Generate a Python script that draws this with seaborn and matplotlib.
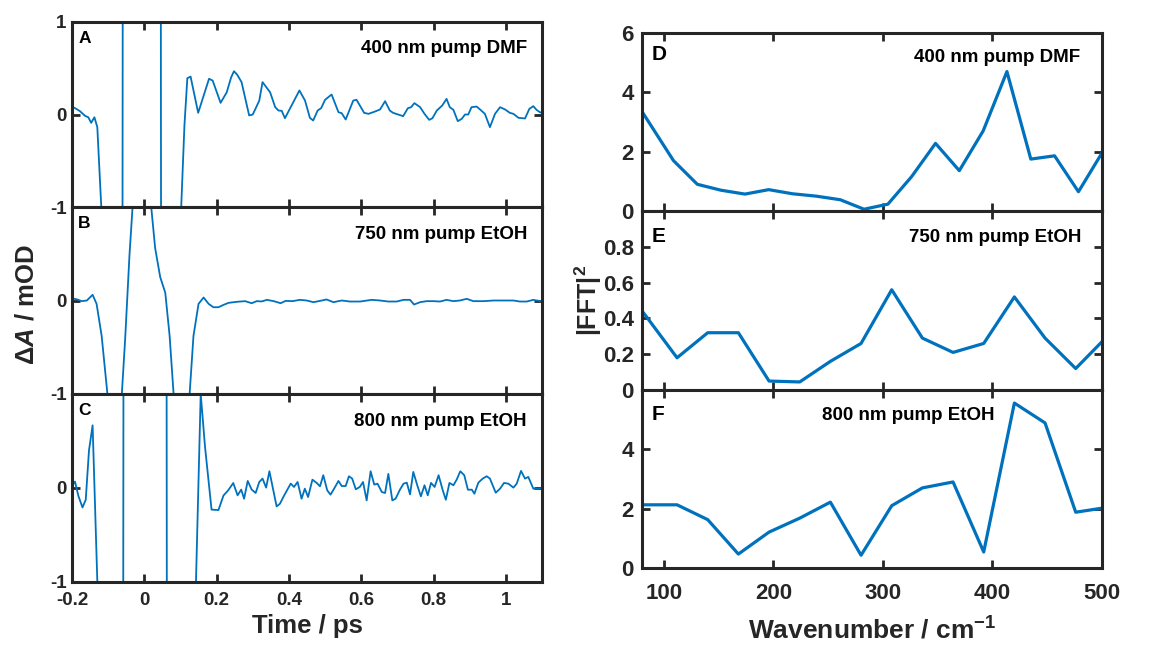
import numpy as np
import pandas as pd
import matplotlib
matplotlib.use("Agg")
import matplotlib.pyplot as plt
import seaborn as sns

# ---------------- data ----------------
# Panel A: 400 nm pump DMF, transient
tA = [-0.200, -0.192, -0.178, -0.164, -0.155, -0.147, -0.138, -0.130, -0.119, -0.108,
      -0.080, -0.061, -0.059, -0.020, 0.020, 0.045, 0.047, 0.080, 0.094, 0.111,
      0.119, 0.128, 0.149, 0.179, 0.189, 0.211, 0.228, 0.240, 0.248, 0.257,
      0.269, 0.290, 0.300, 0.318, 0.327, 0.348, 0.362, 0.371, 0.380, 0.389,
      0.429, 0.4445, 0.458, 0.467, 0.4795, 0.489, 0.500, 0.518, 0.537, 0.546,
      0.557, 0.578, 0.587, 0.608, 0.620, 0.638, 0.652, 0.666, 0.679, 0.688,
      0.702, 0.716, 0.729, 0.738, 0.747, 0.763, 0.775, 0.788, 0.797, 0.809,
      0.824, 0.836, 0.845, 0.855, 0.867, 0.878, 0.887, 0.896, 0.905, 0.919,
      0.930, 0.942, 0.956, 0.970, 0.984, 0.998, 1.011, 1.021, 1.035, 1.053,
      1.065, 1.076, 1.085, 1.094, 1.100]
dA = [0.08, 0.07, 0.036, -0.014, -0.03, -0.09, -0.03, -0.137, -1.0, -2.0,
      -3.0, -4.0, 4.0, 5.0, 5.0, 4.0, -4.0, -3.0, -1.8, -0.119,
      0.392, 0.41, 0.018, 0.386, 0.367, 0.126, 0.24, 0.40, 0.468, 0.43,
      0.35, -0.01, 0.0, 0.15, 0.35, 0.24, 0.08, 0.043, 0.04, -0.04,
      0.26, 0.151, -0.036, -0.065, 0.043, 0.068, 0.159, 0.216, 0.025, 0.014,
      -0.054, 0.151, 0.159, 0.018, 0.007, 0.032, 0.054, 0.144, 0.043, 0.018,
      0.0, -0.018, 0.068, 0.079, 0.123, 0.079, 0.007, -0.058, -0.04, 0.043,
      0.097, 0.169, 0.079, 0.05, -0.072, -0.047, 0.0, 0.0, 0.079, 0.086,
      0.05, 0.007, -0.137, 0.007, 0.079, 0.054, 0.018, 0.007, -0.036, -0.043,
      0.061, 0.09, 0.05, 0.025, 0.02]

# Panel B: 750 nm pump EtOH, transient
tB = [-0.200, -0.1917, -0.1825, -0.173, -0.159, -0.143, -0.132, -0.118, -0.102, -0.090,
      -0.070, -0.053, -0.041, -0.032, -0.020, 0.005, 0.008, 0.030, 0.044, 0.058,
      0.070, 0.081, 0.095, 0.115, 0.136, 0.150, 0.164, 0.178, 0.191, 0.205,
      0.219, 0.233, 0.256, 0.279, 0.297, 0.311, 0.325, 0.339, 0.358, 0.377,
      0.391, 0.410, 0.430, 0.449, 0.468, 0.491, 0.504, 0.523, 0.546, 0.569,
      0.597, 0.629, 0.652, 0.675, 0.698, 0.717, 0.735, 0.746, 0.763, 0.781,
      0.800, 0.818, 0.836, 0.855, 0.873, 0.892, 0.910, 0.938, 0.966, 0.993,
      1.021, 1.039, 1.058, 1.076, 1.085, 1.100]
dB = [0.015, 0.018, 0.007, -0.007, 0.0, 0.061, -0.036, -0.378, -1.0, -1.5,
      -1.5, -0.414, 0.486, 1.03, 1.6, 1.6, 1.45, 0.56, 0.25, 0.083,
      -0.378, -1.0, -1.6, -1.6, -0.378, -0.036, 0.032, -0.036, -0.072, -0.072,
      -0.047, -0.025, -0.014, -0.007, -0.029, -0.007, -0.010, 0.007, -0.007, -0.029,
      -0.004, -0.007, 0.007, 0.0, -0.018, 0.0, 0.011, -0.018, 0.0, -0.011,
      -0.011, 0.007, 0.0, -0.011, -0.011, 0.007, 0.007, -0.043, -0.018, -0.007,
      -0.007, -0.011, 0.007, -0.007, 0.0, 0.018, -0.007, -0.007, 0.0, 0.0,
      0.0, -0.011, -0.011, 0.007, 0.0, -0.007]

# Panel C: 800 nm pump EtOH, transient
tC = [-0.200, -0.1917, -0.1825, -0.171, -0.162, -0.153, -0.143, -0.130, -0.120, -0.080,
      -0.059, -0.057, 0.000, 0.061, 0.063, 0.100, 0.135, 0.156, 0.168, 0.186,
      0.205, 0.219, 0.232, 0.246, 0.258, 0.268, 0.276, 0.286, 0.297, 0.308,
      0.318, 0.327, 0.337, 0.346, 0.366, 0.375, 0.387, 0.405, 0.414, 0.424,
      0.435, 0.444, 0.453, 0.465, 0.477, 0.486, 0.495, 0.506, 0.515, 0.525,
      0.537, 0.546, 0.557, 0.566, 0.575, 0.585, 0.596, 0.605, 0.615, 0.626,
      0.636, 0.645, 0.657, 0.666, 0.675, 0.686, 0.695, 0.707, 0.717, 0.726,
      0.735, 0.744, 0.755, 0.765, 0.775, 0.784, 0.793, 0.803, 0.814, 0.825,
      0.834, 0.844, 0.855, 0.864, 0.874, 0.885, 0.895, 0.906, 0.913, 0.924,
      0.936, 0.947, 0.956, 0.972, 0.984, 0.995, 1.007, 1.021, 1.030, 1.042,
      1.053, 1.062, 1.076, 1.088, 1.100]
dC = [0.02, 0.068, -0.082, -0.207, -0.125, 0.40, 0.667, -0.99, -2.3, -3.0,
      -4.0, 4.0, 5.0, 4.0, -4.0, -3.0, -2.2, 1.0, 0.435, -0.23,
      -0.235, -0.08, -0.025, 0.053, -0.078, -0.017, -0.114, 0.075, -0.017, -0.053,
      0.064, 0.10, 0.004, 0.178, -0.196, -0.168, -0.078, 0.047, 0.011, 0.064,
      -0.114, -0.007, -0.096, 0.089, 0.053, 0.018, 0.136, -0.025, -0.071, -0.007,
      0.075, 0.021, 0.021, 0.125, 0.10, -0.014, 0.011, 0.064, -0.132, 0.178,
      0.036, 0.046, -0.043, -0.053, 0.150, -0.132, -0.114, -0.018, 0.046, 0.057,
      -0.068, 0.171, 0.029, -0.089, 0.029, -0.078, 0.054, 0.011, 0.136, -0.018,
      -0.125, 0.054, 0.029, 0.089, 0.178, 0.136, -0.018, -0.018, -0.061, 0.057,
      0.10, 0.125, 0.10, -0.05, -0.007, 0.054, 0.046, 0.004, 0.046, 0.182,
      0.10, 0.118, -0.007, -0.007, -0.007]

# Panel D: FFT, 400 nm pump DMF
wnD = [65.2, 87.0, 108.7, 130.5, 152.2, 174.0, 195.7, 217.5, 239.2, 261.0,
       282.7, 304.5, 326.2, 348.0, 369.7, 391.5, 413.2, 435.0, 456.7, 478.5, 500.2]
fftD = [4.20, 2.95, 1.70, 0.90, 0.70, 0.57, 0.72, 0.58, 0.50, 0.38,
        0.06, 0.23, 1.16, 2.28, 1.36, 2.70, 4.70, 1.75, 1.86, 0.65, 1.97]

# Panels E, F: FFT, 750 / 800 nm pump EtOH
wnEF = [56, 84, 112, 140, 168, 196, 224, 252, 280, 308, 336, 364, 392, 420, 448, 476, 504]
fftE = [0.63, 0.41, 0.18, 0.32, 0.32, 0.05, 0.045, 0.16, 0.26, 0.56,
        0.29, 0.21, 0.26, 0.52, 0.29, 0.12, 0.295]
fftF = [2.13, 2.13, 2.13, 1.63, 0.47, 1.21, 1.68, 2.22, 0.43, 2.10,
        2.70, 2.90, 0.54, 5.56, 4.89, 1.88, 2.04]

labels_left = ["400 nm pump DMF", "750 nm pump EtOH", "800 nm pump EtOH"]
labels_right = ["400 nm pump DMF", "750 nm pump EtOH", "800 nm pump EtOH"]
letters_left = ["A", "B", "C"]
letters_right = ["D", "E", "F"]
time_ticks = [-0.2, 0, 0.2, 0.4, 0.6, 0.8, 1]
time_ticklabels = ["-0.2", "0", "0.2", "0.4", "0.6", "0.8", "1"]
wn_ticks = [100, 200, 300, 400, 500]

# ---------------- style ----------------
sns.set_style("ticks")
plt.rcParams['font.family'] = ['Liberation Sans', 'DejaVu Sans']
plt.rcParams['font.weight'] = 'bold'
plt.rcParams['axes.labelweight'] = 'bold'
plt.rcParams['mathtext.fontset'] = 'custom'
plt.rcParams['mathtext.rm'] = 'Liberation Sans:bold'
plt.rcParams['mathtext.it'] = 'Liberation Sans:italic:bold'
plt.rcParams['mathtext.bf'] = 'Liberation Sans:bold'
plt.rcParams['mathtext.default'] = 'rm'

BLUE = '#0072BD'
DARK = '#262626'
W, H = 1174, 648

fig = plt.figure(figsize=(W / 100, H / 100), dpi=100)
fig.patch.set_facecolor('white')


def ax_at(x0, y0, x1, y1):
    return fig.add_axes([x0 / W, 1 - y1 / H, (x1 - x0) / W, (y1 - y0) / H])


def style(ax, tick_fs, xpad, ypad):
    ax.tick_params(direction='in', top=True, right=True, length=6, width=2,
                   colors=DARK, labelsize=tick_fs)
    ax.tick_params(axis='x', pad=xpad)
    ax.tick_params(axis='y', pad=ypad)
    for s in ax.spines.values():
        s.set_visible(True)
        s.set_linewidth(2.2)
        s.set_color(DARK)
    ax.set_xlabel('')
    ax.set_ylabel('')
    for lab in ax.get_xticklabels() + ax.get_yticklabels():
        lab.set_fontweight('bold')


# ---------------- left column ----------------
left_boxes = [(72, 22, 542, 207), (72, 207, 542, 394), (72, 394, 542, 582)]
left_data = [(tA, dA), (tB, dB), (tC, dC)]
for i, (box, (t, d)) in enumerate(zip(left_boxes, left_data)):
    ax = ax_at(*box)
    df = pd.DataFrame({'t': t, 'd': d})
    sns.lineplot(data=df, x='t', y='d', ax=ax, color=BLUE, linewidth=1.3,
                 estimator=None, sort=False)
    ax.set_xlim(-0.2, 1.1)
    ax.set_ylim(-1, 1)
    ax.set_xticks(time_ticks)
    ax.set_yticks([-1, 0, 1])
    if i == 0:
        ax.set_yticklabels(['-1', '0', '1'])
    else:
        ax.set_yticklabels(['-1', '0', ''])
    if i == 2:
        ax.set_xticklabels(time_ticklabels)
    else:
        ax.set_xticklabels([])
    style(ax, 13.5, 7, 4)
    ax.text(0.013, 0.91, letters_left[i], transform=ax.transAxes, fontsize=12.5,
            fontweight='bold', ha='left', va='center', color='black')
    ax.text(0.968, 0.855, labels_left[i], transform=ax.transAxes, fontsize=13.5,
            fontweight='bold', ha='right', va='center', color='black')

# ---------------- right column ----------------
right_boxes = [(642, 33, 1102, 211), (642, 211, 1102, 390), (642, 390, 1102, 568)]
right_data = [(wnD, fftD), (wnEF, fftE), (wnEF, fftF)]
right_ylims = [(0, 6), (0, 1), (0, 6)]
right_yticks = [[0, 2, 4, 6], [0, 0.2, 0.4, 0.6, 0.8, 1.0], [0, 2, 4, 6]]
right_yticklabels = [['0', '2', '4', '6'], ['0', '0.2', '0.4', '0.6', '0.8', ''],
                     ['0', '2', '4', '']]
right_text_x = [0.952, 0.956, 0.767]
right_text_y = [0.862, 0.85, 0.854]
right_letter_y = [0.88, 0.86, 0.86]
for i, (box, (w, f)) in enumerate(zip(right_boxes, right_data)):
    ax = ax_at(*box)
    df = pd.DataFrame({'w': w, 'f': f})
    sns.lineplot(data=df, x='w', y='f', ax=ax, color=BLUE, linewidth=2.3,
                 estimator=None, sort=False)
    ax.set_xlim(80, 500)
    ax.set_ylim(*right_ylims[i])
    ax.set_xticks(wn_ticks)
    ax.set_yticks(right_yticks[i])
    ax.set_yticklabels(right_yticklabels[i])
    if i == 2:
        ax.set_xticklabels([str(v) for v in wn_ticks])
    else:
        ax.set_xticklabels([])
    style(ax, 16, 11, 6)
    ax.text(0.022, right_letter_y[i], letters_right[i], transform=ax.transAxes,
            fontsize=15, fontweight='bold', ha='left', va='center', color='black')
    ax.text(right_text_x[i], right_text_y[i], labels_right[i], transform=ax.transAxes,
            fontsize=13.5, fontweight='bold', ha='right', va='center', color='black')

# ---------------- axis titles ----------------
fig.text(307 / W, 1 - 626 / H, 'Time / ps', fontsize=18.5, fontweight='bold',
         ha='center', va='center', color=DARK)
fig.text(27 / W, 1 - 305 / H, r'$\Delta\mathit{A}$ / mOD', fontsize=18.5,
         fontweight='bold', ha='center', va='center', rotation=90, color=DARK)
fig.text(872 / W, 1 - 630 / H, r'Wavenumber / cm$^{\mathbf{-1}}$', fontsize=19,
         fontweight='bold', ha='center', va='center', rotation=0, color=DARK)
fig.text(588 / W, 1 - 300 / H, r'|FFT|$^{\mathbf{2}}$', fontsize=18,
         fontweight='bold', ha='center', va='center', rotation=90, color=DARK)

fig.savefig('out.png', dpi=100, facecolor='white')
